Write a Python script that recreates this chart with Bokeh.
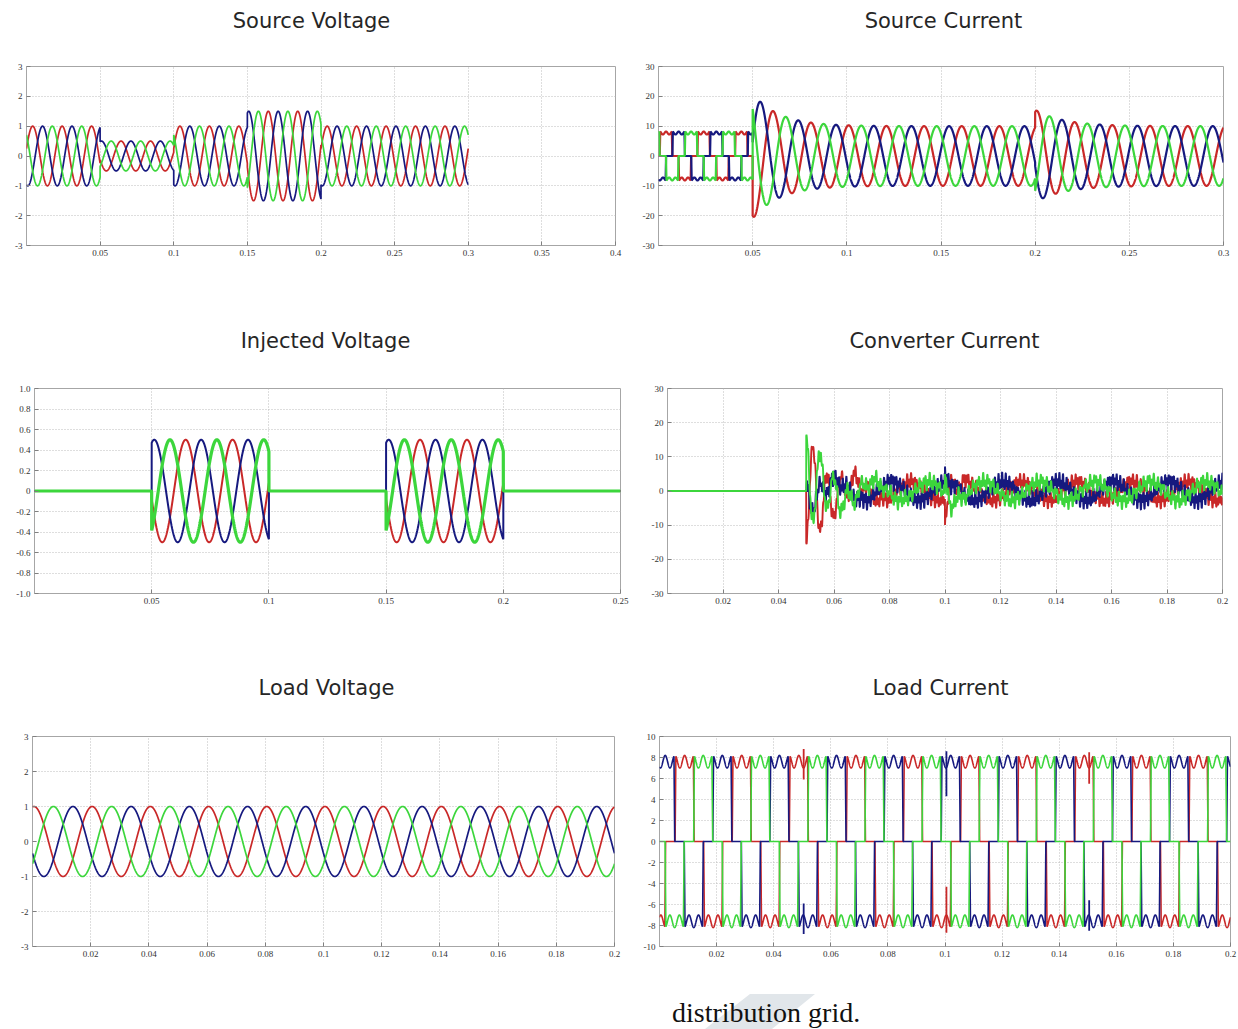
import numpy as np
from bokeh.plotting import figure
from bokeh.layouts import column, row
from bokeh.models import FixedTicker, CustomJSTickFormatter, Div, Range1d
from bokeh.core.properties import value
from bokeh.embed import file_html
from bokeh.resources import INLINE

# ---------------------------------------------------------------- data
F_HZ = 50.0          # grid frequency
DT = 2e-5            # sample step of the simulated traces (s)
PHASE_COLORS = ["#c92828", "#16197f", "#3cd63c"]   # phase a (red), b (blue), c (green)

PANEL_TITLES = [["Source Voltage", "Source Current"],
                ["Injected Voltage", "Converter Current"],
                ["Load Voltage", "Load Current"]]

# Source voltage (pu): amplitude held on each interval
sv_edges = [0.0, 0.05, 0.10, 0.15, 0.20, 0.30]
sv_levels = [1.0, 0.5, 1.0, 1.5, 1.0]
sv_crest = [0.0042, 0.0109, 0.0175]          # time of first crest, red / blue / green

# Source current (A): six-pulse block current, then sinusoidal after compensation
sc_switch = 0.05
sc_block_level = 8.2
sc_block_dip = 1.0
sc_block_crest = [0.0040, 0.0107, 0.0173]
sc_amp = 10.0
sc_crest = [0.0010, 0.0143, 0.0077]
sc_kick_t = [0.05, 0.20]
sc_kick_amp = [11.0, 5.5]
sc_kick_tau = [0.014, 0.015]

# Injected voltage (pu): active only during the sag and the swell
inj_start = [0.05, 0.15]
inj_stop = [0.10, 0.20]
inj_amp = [0.5, 0.5]
inj_crest = [0.0045, 0.0111, 0.0178]
inj_t_end = 0.25

# Converter current (A)
cc_on = 0.05
cc_amp = 2.7
cc_crest = [0.0075, 0.0008, 0.0141]
cc_ripple = [1.5, 1.7, 1.5]
cc_ripple_hz = [1450.0, 1550.0, 1350.0]
cc_ripple2 = [1.0, 1.1, 1.2]
cc_ripple2_hz = [640.0, 730.0, 570.0]
cc_kick_t = [0.05, 0.10]
cc_kick_tau = [0.009, 0.003]
cc_kick_red = [-17.0, -8.0]
cc_kick_blue = [5.0, 2.0]
cc_kick_green = [15.0, 6.0]
cc_kick_hz = 200.0
cc_t_end = 0.20

# Load voltage (pu)
lv_amp = 1.0
lv_crest = [0.0005, 0.0139, 0.0072]
lv_t_end = 0.20

# Load current (A): six-pulse rectifier draw
lc_level = 8.2
lc_dip = 1.2
lc_crest = [0.0088, 0.0020, 0.0153]
lc_t_end = 0.20
lc_spike_t = [0.0505, 0.0505, 0.1005, 0.1005, 0.1505, 0.1505]
lc_spike_lo = [5.9, -5.9, 4.3, -4.3, 5.5, -5.6]
lc_spike_hi = [8.8, -8.8, 8.6, -8.7, 8.5, -8.5]
lc_spike_phase = [0, 1, 1, 0, 0, 1]


# ---------------------------------------------------------------- signals
def wave(t, tp):
    return np.cos(2 * np.pi * F_HZ * (t - tp))


def six_pulse(t, tp, level, dip):
    c = wave(t, tp)
    gate = np.clip((np.abs(c) - 0.5) / 0.07, 0.0, 1.0)
    top = level - dip / 2 * (1 - np.cos(6 * 2 * np.pi * F_HZ * (t - tp)))
    return np.sign(c) * gate * top


def timebase(t_end):
    return np.arange(0.0, t_end + DT / 2, DT)


# source voltage
t_sv = timebase(sv_edges[-1])
idx = np.clip(np.searchsorted(sv_edges, t_sv, side="right") - 1, 0, len(sv_levels) - 1)
env_sv = np.array(sv_levels)[idx]
sv = [env_sv * wave(t_sv, tp) for tp in sv_crest]

# source current
t_sc = timebase(0.30)
env_sc = np.full_like(t_sc, sc_amp)
for kt, ka, kd in zip(sc_kick_t, sc_kick_amp, sc_kick_tau):
    on = t_sc >= kt
    env_sc[on] += ka * np.exp(-(t_sc[on] - kt) / kd)
sc = []
for tpb, tp in zip(sc_block_crest, sc_crest):
    y = np.where(t_sc < sc_switch,
                 six_pulse(t_sc, tpb, sc_block_level, sc_block_dip),
                 env_sc * wave(t_sc, tp))
    sc.append(y)

# injected voltage
t_inj = timebase(inj_t_end)
env_inj = np.zeros_like(t_inj)
for a, b, amp in zip(inj_start, inj_stop, inj_amp):
    env_inj[(t_inj >= a) & (t_inj <= b)] = amp
inj = [env_inj * wave(t_inj, tp) for tp in inj_crest]

# converter current
t_cc = timebase(cc_t_end)
on_cc = (t_cc >= cc_on).astype(float)
cc = []
for k, (tp, r1, f1, r2, f2, kicks) in enumerate(zip(
        cc_crest, cc_ripple, cc_ripple_hz, cc_ripple2, cc_ripple2_hz,
        [cc_kick_red, cc_kick_blue, cc_kick_green])):
    base = cc_amp * wave(t_cc, tp)
    ripple = (r1 * np.sin(2 * np.pi * f1 * t_cc + 2.1 * k) * (0.6 + 0.4 * np.abs(wave(t_cc, tp)))
              + r2 * np.sin(2 * np.pi * f2 * t_cc + 1.3 * k))
    y = on_cc * (base + ripple)
    for kt, kd, ka in zip(cc_kick_t, cc_kick_tau, kicks):
        m = t_cc >= kt
        y[m] += ka * np.exp(-(t_cc[m] - kt) / kd) * np.cos(2 * np.pi * cc_kick_hz * (t_cc[m] - kt))
    cc.append(y)

# load voltage
t_lv = timebase(lv_t_end)
lv = [lv_amp * wave(t_lv, tp) for tp in lv_crest]

# load current
t_lc = timebase(lc_t_end)
lc = [six_pulse(t_lc, tp, lc_level, lc_dip) for tp in lc_crest]


# ---------------------------------------------------------------- figures
PAGE_W = 1238
XFMT = CustomJSTickFormatter(code="return (Math.round(tick*100)/100).toString();")
YFMT_INT = CustomJSTickFormatter(code="return Math.round(tick).toString();")
YFMT_DEC = CustomJSTickFormatter(code="return Math.abs(tick) < 1e-9 ? '0' : tick.toFixed(1);")


def heading_strip(titles, centers, height):
    """A bare strip carrying the two panel headings of one row (pixel coordinates)."""
    s = figure(width=PAGE_W, height=height, output_backend="svg", toolbar_location=None,
               x_range=Range1d(0, PAGE_W), y_range=Range1d(0, height),
               min_border=0, outline_line_color=None)
    s.axis.visible = False
    s.grid.visible = False
    s.text(x=centers, y=[height / 2] * len(titles), text=titles,
           text_align="center", text_baseline="middle",
           text_font=value("DejaVu Sans"), text_font_size="21px", text_color="#262626")
    return s


def panel(width, height, left, right, top, bottom, x_end, y_lim, xticks, yticks, yfmt):
    p = figure(width=width, height=height, output_backend="svg", toolbar_location=None,
               x_range=Range1d(0, x_end), y_range=Range1d(-y_lim, y_lim),
               min_border_left=left, min_border_right=right,
               min_border_top=top, min_border_bottom=bottom)
    p.background_fill_color = "white"
    p.border_fill_color = "white"
    p.outline_line_color = "#a6a6a6"
    p.outline_line_width = 1
    p.xaxis.ticker = FixedTicker(ticks=xticks)
    p.yaxis.ticker = FixedTicker(ticks=yticks)
    p.xaxis.formatter = XFMT
    p.yaxis.formatter = yfmt
    for ax in (p.xaxis[0], p.yaxis[0]):
        ax.axis_line_color = None
        ax.major_tick_in = 4
        ax.major_tick_out = 0
        ax.major_tick_line_color = "#808080"
        ax.minor_tick_line_color = None
        ax.major_label_text_font = "Liberation Serif"
        ax.major_label_text_font_size = "9px"
        ax.major_label_text_color = "#333333"
        ax.major_label_standoff = 4
    for g in (p.xgrid[0], p.ygrid[0]):
        g.grid_line_color = "#bdbdbd"
        g.grid_line_dash = "1 2"
        g.grid_line_width = 1
    return p


def steps(a, b, n):
    return [round(a + i * (b - a) / n, 4) for i in range(n + 1)]


strip1 = heading_strip(PANEL_TITLES[0], [311, 943], 40)
strip2 = heading_strip(PANEL_TITLES[1], [325, 944], 40)
strip3 = heading_strip(PANEL_TITLES[2], [326, 940], 40)

p1 = panel(630, 280, 26, 15, 26, 70, 0.4, 3,
           steps(0.05, 0.4, 7), steps(-3, 3, 6), YFMT_INT)
for y, c in zip(sv, PHASE_COLORS):
    p1.line(t_sv, y, line_color=c, line_width=1.7)

p2 = panel(608, 280, 28, 15, 25, 75, 0.3, 30,
           steps(0.05, 0.3, 5), steps(-30, 30, 6), YFMT_INT)
for y, c in zip(sc, PHASE_COLORS):
    p2.line(t_sc, y, line_color=c, line_width=2.2)

p3 = panel(630, 307, 34, 10, 24, 74, 0.25, 1.0,
           steps(0.05, 0.25, 4), steps(-1.0, 1.0, 10), YFMT_DEC)
for y, c in zip(inj, PHASE_COLORS):
    p3.line(t_inj, y, line_color=c, line_width=3.2 if c == PHASE_COLORS[2] else 2.0)

p4 = panel(608, 307, 37, 16, 28, 73, 0.2, 30,
           steps(0.02, 0.2, 9), steps(-30, 30, 6), YFMT_INT)
for y, c in zip(cc, PHASE_COLORS):
    p4.line(t_cc, y, line_color=c, line_width=1.9)

p5 = panel(630, 278, 32, 16, 29, 39, 0.2, 3,
           steps(0.02, 0.2, 9), steps(-3, 3, 6), YFMT_INT)
for y, c in zip(lv, PHASE_COLORS):
    p5.line(t_lv, y, line_color=c, line_width=1.7)

p6 = panel(608, 278, 29, 8, 28, 37, 0.2, 10,
           steps(0.02, 0.2, 9), steps(-10, 10, 10), YFMT_INT)
for y, c in zip(lc, PHASE_COLORS):
    p6.line(t_lc, y, line_color=c, line_width=1.6)
p6.segment(x0=lc_spike_t, y0=lc_spike_lo, x1=lc_spike_t, y1=lc_spike_hi,
           line_color=[PHASE_COLORS[k] for k in lc_spike_phase], line_width=1.8)

caption = Div(
    text='<div style="position:relative;width:1238px;height:44px;overflow:hidden;">'
         '<div style="position:absolute;left:0;top:0;width:1238px;height:44px;background:#e1e6ea;'
         'clip-path:polygon(705px 44px, 772px 44px, 815px 9px, 750px 9px);"></div>'
         '<span style="position:absolute;left:672px;top:8px;font-family:\'Liberation Serif\';'
         'font-size:28px;color:#111;white-space:nowrap;">distribution grid.</span></div>',
    width=PAGE_W, height=44, margin=(0, 0, 0, 0))

layout = column(strip1, row(p1, p2), strip2, row(p3, p4), strip3, row(p5, p6), caption)

with open("out.html", "w") as fh:
    fh.write(file_html(layout, INLINE))
